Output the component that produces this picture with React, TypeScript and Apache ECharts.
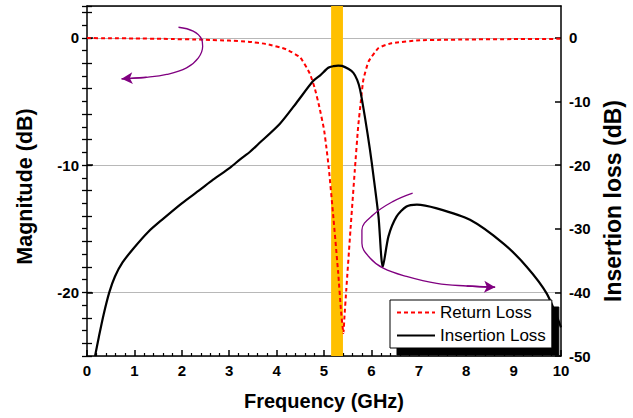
import React, { useEffect, useRef } from "react";
import * as echarts from "echarts";

const rlFreq = [0, 0.5, 1.0, 1.6, 2.5, 3.0, 3.4, 3.8, 4.2, 4.5, 4.7, 4.8, 4.9, 5.0, 5.05, 5.1, 5.2, 5.3, 5.36, 5.41, 5.43, 5.47, 5.56, 5.65, 5.72, 5.78, 5.83, 5.94, 6.15, 6.43, 7.03, 7.5, 8.0, 9.0, 10];
const rlVals = [-0.02, -0.03, -0.05, -0.08, -0.15, -0.22, -0.3, -0.5, -0.9, -1.55, -2.8, -3.9, -5.4, -7.2, -8.6, -10.2, -14.2, -18.5, -21.5, -23.2, -22.0, -19.8, -15.0, -10.4, -7.0, -4.9, -3.3, -1.86, -0.8, -0.42, -0.19, -0.16, -0.13, -0.1, -0.08];

const ilFreq = [0.17, 0.25, 0.35, 0.47, 0.59, 0.75, 0.98, 1.29, 1.58, 2.0, 2.38, 2.66, 3.02, 3.23, 3.44, 3.6, 4.07, 4.42, 4.77, 4.92, 5.09, 5.2, 5.3, 5.38, 5.52, 5.62, 5.7, 5.76, 5.86, 5.97, 6.04, 6.15, 6.24, 6.36, 6.53, 6.74, 6.96, 7.38, 8.08, 8.78, 9.28, 9.7, 10];
const ilVals = [-50, -47, -43.5, -40, -37.5, -35.3, -33.1, -30.5, -28.6, -26.0, -23.9, -22.3, -20.4, -19.1, -17.9, -16.8, -13.5, -10.2, -6.8, -5.9, -4.7, -4.45, -4.36, -4.4, -4.9, -5.5, -6.6, -8.1, -12.3, -17.6, -21.5, -28.1, -36.0, -31.2, -28.1, -26.5, -26.2, -26.8, -28.6, -32.3, -36.0, -40.2, -45.5];

// annotation arrows (data coordinates)
const arrow1X = [1.93, 2.24, 2.42, 2.44, 2.35, 2.1, 1.68, 1.26, 0.73];
const arrow1Y = [0.83, 0.52, -0.13, -0.66, -1.57, -2.36, -2.88, -3.1, -3.22];
const arrow2X = [6.87, 6.46, 6.04, 5.8, 5.8, 5.97, 6.25, 6.74, 7.38, 8.01, 8.61];
const arrow2Y = [-24.4, -25.7, -27.8, -30.2, -32.3, -34.6, -36.2, -37.5, -38.6, -39.0, -39.2];

const band = [5.15, 5.4];
const seriesNames = ["Return Loss", "Insertion Loss"];

const FONT = "'Liberation Sans', Arial, sans-serif";
const zip = (a: number[], b: number[]) => a.map((v, i) => [v, b[i]]);

export default function App() {
  const ref = useRef<HTMLDivElement>(null);
  useEffect(() => {
    const chart = echarts.init(ref.current!, null, { renderer: "svg" });
    const arrowSeries = (xs: number[], ys: number[], yIdx: number) => {
      const pts = zip(xs, ys);
      const n = pts.length;
      return {
        type: "line",
        yAxisIndex: yIdx,
        data: pts,
        smooth: 0.4,
        symbol: "none",
        silent: true,
        lineStyle: { color: "#800080", width: 1.3 },
        z: 4,
        markLine: {
          silent: true,
          symbol: ["none", "arrow"],
          symbolSize: [9, 11],
          label: { show: false },
          lineStyle: { color: "#800080", width: 1.3, type: "solid" },
          data: [[{ coord: pts[n - 2] }, { coord: pts[n - 1] }]],
        },
      };
    };
    const axLine = () => ({ show: true, onZero: false, lineStyle: { color: "#000", width: 1.5 } });
    const majorLabel = (showMin: boolean) => ({
      fontFamily: FONT, fontWeight: "bold", fontSize: 15, color: "#000", margin: 8,
      showMinLabel: showMin, showMaxLabel: false,
    });
    const tickOnlyAxis = (position: string, min: number, max: number) => ({
      type: "value",
      position,
      min,
      max,
      minInterval: 2,
      maxInterval: 2,
      axisLine: { show: false },
      axisTick: { show: true, inside: true, length: 5, lineStyle: { color: "#000", width: 1.3 } },
      axisLabel: { show: false },
      splitLine: { show: false },
    });
    chart.setOption({
      animation: false,
      grid: { left: 87, right: 72, top: 6, bottom: 62 },
      legend: {
        data: seriesNames,
        orient: "vertical",
        left: 390,
        top: 300,
        itemWidth: 38,
        itemHeight: 12,
        itemGap: 6,
        padding: [4, 6, 4, 6],
        backgroundColor: "#fff",
        borderColor: "#000",
        borderWidth: 1,
        shadowColor: "#000",
        shadowBlur: 0,
        shadowOffsetX: 7,
        shadowOffsetY: 7,
        itemStyle: { opacity: 0 },
        textStyle: { fontFamily: FONT, fontSize: 17, color: "#000" },
      },
      xAxis: [
        {
          type: "value",
          position: "bottom",
          min: 0,
          max: 10,
          interval: 1,
          name: "Frequency (GHz)",
          nameLocation: "middle",
          nameGap: 35,
          nameTextStyle: { fontFamily: FONT, fontWeight: "bold", fontSize: 20, color: "#000" },
          axisLine: axLine(),
          axisTick: { show: true, inside: true, length: 6, lineStyle: { color: "#000", width: 1.5 } },
          minorTick: { show: true, splitNumber: 5, length: 3, lineStyle: { color: "#000", width: 1.2 } },
          axisLabel: { fontFamily: FONT, fontWeight: "bold", fontSize: 15, color: "#000", margin: 7 },
          splitLine: { show: false },
        },
        {
          type: "value",
          position: "top",
          min: 0,
          max: 10,
          interval: 1,
          axisLine: axLine(),
          axisTick: { show: false },
          axisLabel: { show: false },
          splitLine: { show: false },
        },
      ],
      yAxis: [
        {
          type: "value",
          position: "left",
          min: -25,
          max: 2.5,
          minInterval: 10,
          maxInterval: 10,
          name: "Magnitude (dB)",
          nameLocation: "middle",
          nameGap: 51,
          nameTextStyle: { fontFamily: FONT, fontWeight: "bold", fontSize: 21.5, color: "#000", padding: [0, 11, 0, 0] },
          axisLine: axLine(),
          axisTick: { show: true, inside: true, length: 6, lineStyle: { color: "#000", width: 1.5 } },
          axisLabel: majorLabel(false),
          splitLine: { show: true, lineStyle: { color: "#b8b8b8", width: 1 } },
        },
        {
          type: "value",
          position: "right",
          min: -50,
          max: 5,
          minInterval: 10,
          maxInterval: 10,
          name: "Insertion loss (dB)",
          nameLocation: "middle",
          nameGap: 32,
          nameTextStyle: { fontFamily: FONT, fontWeight: "bold", fontSize: 23, color: "#000", padding: [0, 40, 0, 0] },
          axisLine: axLine(),
          axisTick: { show: true, inside: true, length: 6, lineStyle: { color: "#000", width: 1.5 } },
          axisLabel: majorLabel(true),
          splitLine: { show: false },
        },
        tickOnlyAxis("left", -25, 2.5),
        tickOnlyAxis("right", -50, 5),
      ],
      series: [
        {
          name: "Return Loss",
          type: "line",
          yAxisIndex: 0,
          data: zip(rlFreq, rlVals),
          symbol: "none",
          smooth: 0.15,
          lineStyle: { color: "#ff0000", width: 2, type: [4, 3] },
          itemStyle: { color: "#ff0000" },
          z: 3,
          markArea: {
            silent: true,
            itemStyle: { color: "#ffc000", opacity: 1 },
            data: [[{ xAxis: band[0] }, { xAxis: band[1] }]],
          },
        },
        {
          name: "Insertion Loss",
          type: "line",
          yAxisIndex: 1,
          data: zip(ilFreq, ilVals),
          symbol: "none",
          smooth: 0.25,
          lineStyle: { color: "#000", width: 2.2 },
          itemStyle: { color: "#000" },
          z: 3,
        },
        arrowSeries(arrow1X, arrow1Y, 0),
        arrowSeries(arrow2X, arrow2Y, 1),
      ],
    });
    return () => chart.dispose();
  }, []);
  return <div ref={ref} style={{ width: 633, height: 418, position: "absolute", left: 0, top: 0, background: "#fff" }} />;
}
